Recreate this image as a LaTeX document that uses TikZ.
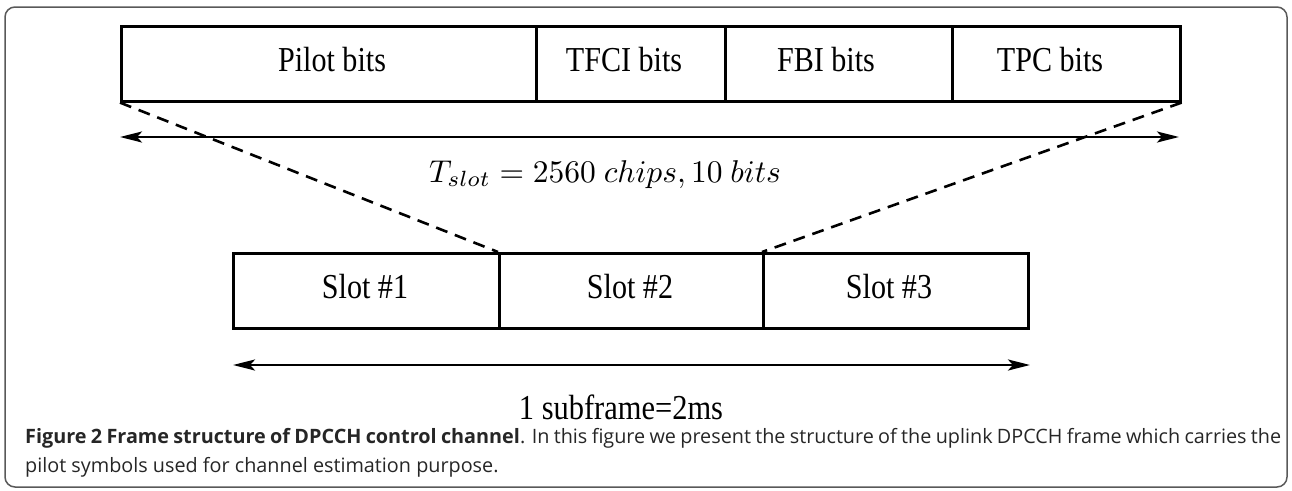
\documentclass[tikz,border=0pt]{standalone}
\usepackage[no-math]{fontspec}
\setmainfont{Liberation Serif}
\newfontfamily\capfont{Open Sans}
\usepackage{graphicx}
\usetikzlibrary{arrows.meta}
\begin{document}
\begin{tikzpicture}[x=1pt,y=-1pt,
  cell/.style={draw, line width=2.6pt, minimum height=75pt, inner sep=0pt, anchor=north west},
  lbl/.style={font=\fontsize{35}{40}\selectfont, anchor=base, inner sep=0pt},
  dim/.style={line width=2.6pt, {Stealth[length=22pt,width=11pt,inset=5pt]}-{Stealth[length=22pt,width=11pt,inset=5pt]}},
  guide/.style={line width=2.6pt, dash pattern=on 12pt off 8pt},
  captext/.style={anchor=base west, inner sep=0pt, text=black!85, font=\capfont\fontsize{19.8}{23}\selectfont}]
\useasboundingbox (0,0) rectangle (1292,490);
\draw[draw=black!65, line width=1.5pt, rounded corners=10pt] (5,7) rectangle (1287,487);
% top frame cells
\node[cell, minimum width=415pt] (pilot) at (120,25) {};
\node[cell, minimum width=189pt] (tfci) at (535,25) {};
\node[cell, minimum width=227pt] (fbi) at (724,25) {};
\node[cell, minimum width=228pt] (tpc) at (951,25) {};
\node[lbl] (tpilot) at (332,71) {\scalebox{0.86}[1]{Pilot bits}};
\node[lbl] (ttfci) at (624,71) {\scalebox{0.86}[1]{TFCI bits}};
\node[lbl] (tfbi) at (826,71) {\scalebox{0.86}[1]{FBI bits}};
\node[lbl] (ttpc) at (1050,71) {\scalebox{0.86}[1]{TPC bits}};
% slots
\node[cell, minimum width=266pt] (s1) at (232,252) {};
\node[cell, minimum width=264pt] (s2) at (498,252) {};
\node[cell, minimum width=265pt] (s3) at (762,252) {};
\node[lbl] (ts1) at (365,298) {\scalebox{0.86}[1]{Slot \#1}};
\node[lbl] (ts2) at (630,298) {\scalebox{0.86}[1]{Slot \#2}};
\node[lbl] (ts3) at (889,298) {\scalebox{0.86}[1]{Slot \#3}};
% dashed guides
\draw[guide] (pilot.south west) -- (s2.north west);
\draw[guide] (tpc.south east) -- (s3.north west);
% dimension arrows
\coordinate (a1) at (120,137);
\coordinate (a2) at (1179,137);
\draw[dim] (a1) -- (a2);
\node[anchor=base, inner sep=0pt] (tslot) at (605,182) {\scalebox{3.15}{$T_{slot} = 2560\ chips, 10\ bits$}};
\coordinate (b1) at (233,365);
\coordinate (b2) at (1030,365);
\draw[dim] (b1) -- (b2);
\node[lbl] (tsub) at (621,419) {\scalebox{0.87}[1]{1 subframe=2ms}};
% caption
\node[captext] (cap1) at (25,443) {\makebox[1256pt][s]{\textbf{Figure 2 Frame structure of DPCCH control channel}. In this figure we present the structure of the uplink DPCCH frame which carries the}};
\node[captext] (cap2) at (25,472) {pilot symbols used for channel estimation purpose.};
\end{tikzpicture}
\end{document}
